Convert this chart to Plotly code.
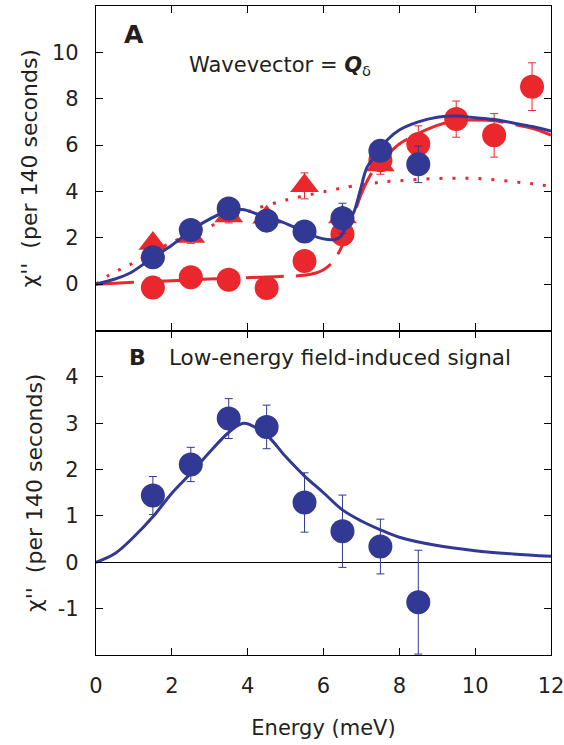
import plotly.graph_objects as go

# ---- data -------------------------------------------------------------
energy_blue = [1.5, 2.5, 3.5, 4.5, 5.5, 6.5, 7.5, 8.5]
chi_blue = [1.16, 2.34, 3.26, 2.74, 2.27, 2.84, 5.75, 5.17]
err_blue = [0.3, 0.3, 0.3, 0.3, 0.35, 0.65, 0.45, 0.79]

energy_red = [1.5, 2.5, 3.5, 4.5, 5.5, 6.5, 7.5, 8.5, 9.5, 10.5, 11.5]
chi_red = [-0.15, 0.30, 0.19, -0.17, 1.0, 2.15, 5.35, 6.05, 7.12, 6.42, 8.52]
err_red = [0.3, 0.3, 0.3, 0.3, 0.35, 0.4, 0.45, 0.78, 0.78, 0.94, 1.03]

energy_tri = [1.5, 2.5, 3.5, 4.5, 5.5, 6.5, 7.5]
chi_tri = [1.75, 2.06, 2.94, 2.89, 4.24, 2.9, 5.14]
err_tri = [0.3, 0.3, 0.3, 0.3, 0.56, 0.3, 0.4]

# fitted curves, panel A
fit_blue_e = [0, 0.5, 0.9, 1.5, 2.0, 2.5, 2.9, 3.4, 3.85, 4.3, 4.8, 5.2, 5.5, 5.85,
              6.1, 6.3, 6.45, 6.6, 6.8, 6.97, 7.15, 7.4, 7.7, 8.0, 8.5, 9.0, 9.5,
              10.0, 10.5, 11.0, 11.5, 12.0]
fit_blue_y = [0, 0.22, 0.48, 1.15, 1.68, 2.3, 2.72, 3.1, 3.22, 3.0, 2.75, 2.48, 2.28,
              2.02, 1.93, 1.92, 2.05, 2.5, 3.1, 4.05, 5.05, 5.6, 6.25, 6.65, 7.0,
              7.2, 7.25, 7.18, 7.1, 6.95, 6.8, 6.6]

fit_dash_e = [0, 1, 2, 3, 4, 4.5, 5.0, 5.5, 5.8, 6.0, 6.2, 6.4, 6.6, 6.8, 7.0, 7.2,
              7.4, 7.7, 8.0, 8.5, 9.0, 9.5, 10.0, 10.5, 11.0, 11.5, 12.0]
fit_dash_y = [0, 0.08, 0.15, 0.22, 0.28, 0.31, 0.34, 0.38, 0.48, 0.62, 0.88, 1.35,
              2.1, 3.0, 3.9, 4.6, 5.1, 5.6, 6.05, 6.5, 6.85, 7.05, 7.08, 7.05, 6.9,
              6.72, 6.43]

fit_dot_e = [0, 0.35, 0.7, 1.05, 1.5, 2.0, 2.5, 3.1, 3.8, 4.3, 4.85, 5.2, 5.9, 6.24,
             6.57, 7.3, 7.62, 8.0, 8.5, 9.0, 9.5, 10.0, 10.5, 11.0, 11.5, 12.0]
fit_dot_y = [0, 0.4, 0.69, 0.97, 1.4, 1.8, 2.2, 2.56, 3.0, 3.3, 3.56, 3.7, 3.95, 4.06,
             4.18, 4.35, 4.42, 4.46, 4.52, 4.56, 4.57, 4.56, 4.5, 4.42, 4.33, 4.22]

# panel B: low-energy field-induced signal
energy_b = [1.5, 2.5, 3.5, 4.5, 5.5, 6.5, 7.5, 8.5]
chi_b = [1.44, 2.11, 3.10, 2.92, 1.29, 0.67, 0.34, -0.86]
err_b = [0.41, 0.37, 0.43, 0.47, 0.64, 0.78, 0.59, 1.12]

fit_b_e = [0, 0.5, 1.0, 1.5, 2.0, 2.5, 3.0, 3.5, 3.9, 4.5, 5.0, 5.5, 6.0, 6.5, 7.0,
           7.5, 8.0, 9.0, 10.0, 11.0, 12.0]
fit_b_y = [0, 0.19, 0.55, 0.98, 1.49, 1.92, 2.38, 2.8, 3.0, 2.74, 2.28, 1.86, 1.5,
           1.13, 0.89, 0.70, 0.54, 0.36, 0.25, 0.18, 0.13]

x_ticks = [0, 2, 4, 6, 8, 10, 12]
x_labels = ["0", "2", "4", "6", "8", "10", "12"]
ya_ticks = [0, 2, 4, 6, 8, 10]
ya_labels = ["0", "2", "4", "6", "8", "10"]
yb_ticks = [-1, 0, 1, 2, 3, 4]
yb_labels = ["-1", "0", "1", "2", "3", "4"]

# ---- style ------------------------------------------------------------
BLUE = "rgb(49,57,148)"
RED = "rgb(233,39,44)"
INK = "#231f20"
FONT = "DejaVu Sans"

fig = go.Figure()

# panel A curves
fig.add_trace(go.Scatter(x=fit_dot_e, y=fit_dot_y, mode="lines", line_shape="spline",
                         line=dict(color=RED, width=3, dash="3px,10px"),
                         xaxis="x", yaxis="y"))
fig.add_trace(go.Scatter(x=fit_dash_e, y=fit_dash_y, mode="lines", line_shape="spline",
                         line=dict(color=RED, width=3, dash="38px,12px"),
                         xaxis="x", yaxis="y"))

# panel A points
fig.add_trace(go.Scatter(x=energy_tri, y=chi_tri, mode="markers",
                         marker=dict(symbol="triangle-up", size=25, color=RED, line_width=0),
                         error_y=dict(array=err_tri, color=RED, thickness=1, width=4),
                         xaxis="x", yaxis="y"))
fig.add_trace(go.Scatter(x=energy_red, y=chi_red, mode="markers",
                         marker=dict(symbol="circle", size=24, color=RED, line_width=0),
                         error_y=dict(array=err_red, color=RED, thickness=1, width=4),
                         xaxis="x", yaxis="y"))
fig.add_trace(go.Scatter(x=fit_blue_e, y=fit_blue_y, mode="lines", line_shape="spline",
                         line=dict(color=BLUE, width=3), xaxis="x", yaxis="y"))
fig.add_trace(go.Scatter(x=energy_blue, y=chi_blue, mode="markers",
                         marker=dict(symbol="circle", size=24, color=BLUE, line_width=0),
                         error_y=dict(array=err_blue, color=BLUE, thickness=1, width=4),
                         xaxis="x", yaxis="y"))

# panel B
fig.add_trace(go.Scatter(x=fit_b_e, y=fit_b_y, mode="lines", line_shape="spline",
                         line=dict(color=BLUE, width=3), xaxis="x2", yaxis="y2"))
fig.add_trace(go.Scatter(x=energy_b, y=chi_b, mode="markers",
                         marker=dict(symbol="circle", size=24, color=BLUE, line_width=0),
                         error_y=dict(array=err_b, color=BLUE, thickness=1, width=4),
                         xaxis="x2", yaxis="y2"))

axis_common = dict(showline=True, linecolor="black", linewidth=1.3, mirror="ticks",
                   ticks="inside", ticklen=7, tickwidth=1.3, tickcolor="black",
                   showgrid=False, zeroline=False, ticklabeloverflow="allow",
                   automargin=False,
                   tickfont=dict(family=FONT, size=21, color=INK))

ytitle = "χ''  (per 140 seconds)"

fig.update_layout(
    width=564, height=745,
    margin=dict(l=96, r=13, t=6, b=90),
    paper_bgcolor="white", plot_bgcolor="white",
    showlegend=False,
    font=dict(family=FONT, color=INK),
    xaxis=dict(axis_common, range=[0, 12], tickvals=x_ticks, showticklabels=False,
               anchor="y", domain=[0, 1]),
    yaxis=dict(axis_common, range=[-2, 12], tickvals=ya_ticks, ticktext=ya_labels,
               domain=[0.5, 1], anchor="x", ticklabelstandoff=12,
               title=dict(text=ytitle, font=dict(family=FONT, size=22, color=INK),
                          standoff=8)),
    xaxis2=dict(axis_common, range=[0, 12], tickvals=x_ticks, ticktext=x_labels,
                anchor="y2", domain=[0, 1], ticklabelstandoff=12,
                title=dict(text="Energy (meV)", font=dict(family=FONT, size=21, color=INK),
                           standoff=22)),
    yaxis2=dict(axis_common, range=[-2, 5], tickvals=yb_ticks, ticktext=yb_labels,
                domain=[0, 0.5], anchor="x2", ticklabelstandoff=12,
                zeroline=True, zerolinecolor="black", zerolinewidth=1,
                title=dict(text=ytitle, font=dict(family=FONT, size=22, color=INK),
                           standoff=8)),
)

fig.add_annotation(x=0.68, y=10.75, xref="x", yref="y", xanchor="left", yanchor="middle",
                   text="<b>A</b>", showarrow=False,
                   font=dict(family=FONT, size=25, color=INK))
fig.add_annotation(x=2.4, y=9.4, xref="x", yref="y", xanchor="left", yanchor="middle",
                   text="Wavevector = <b><i>Q</i></b><sub>δ</sub>", showarrow=False,
                   font=dict(family=FONT, size=21, color=INK))
fig.add_annotation(x=0.81, y=4.42, xref="x2", yref="y2", xanchor="left", yanchor="middle",
                   text="<b>B</b>", showarrow=False,
                   font=dict(family=FONT, size=22, color=INK))
fig.add_annotation(x=1.86, y=4.42, xref="x2", yref="y2", xanchor="left", yanchor="middle",
                   text="Low-energy field-induced signal", showarrow=False,
                   font=dict(family=FONT, size=21.5, color=INK))

fig.write_html("out.html")
